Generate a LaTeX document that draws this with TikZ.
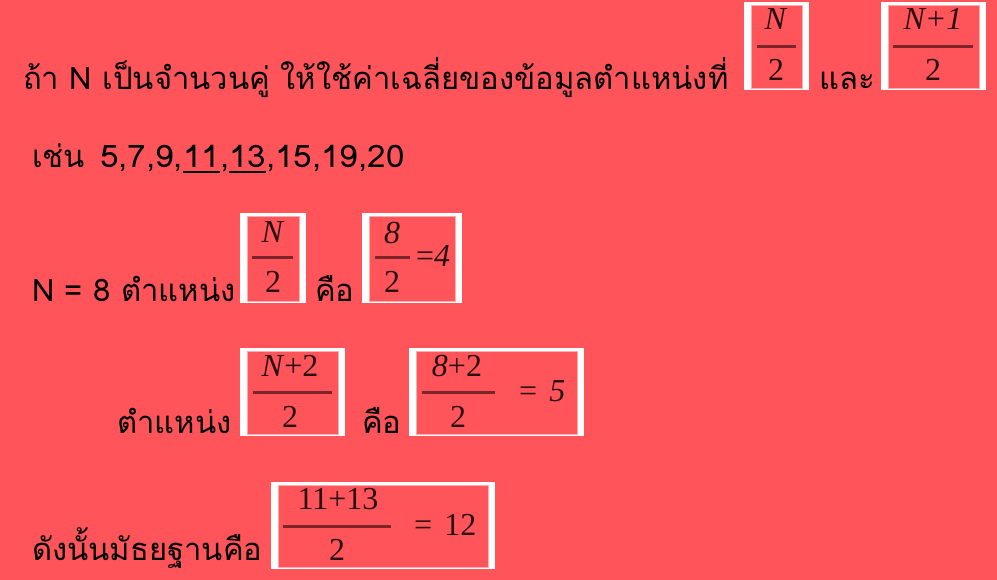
\documentclass[tikz,border=0pt]{standalone}
\usepackage{fontspec}
\newfontfamily\thaifont[Script=Thai]{Loma}
\newfontfamily\timesfont{Liberation Serif}
\usepackage{tikz}
\usetikzlibrary{positioning,calc}
\definecolor{bgred}{RGB}{255,85,90}
\definecolor{barred}{RGB}{125,36,40}
\definecolor{edgepink}{RGB}{255,170,175}
\definecolor{fracink}{RGB}{40,15,18}
\newcommand{\digitline}[1]{\setbox0\hbox{#1}\rlap{\rule[-5pt]{\wd0}{1.8pt}}\box0}

\begin{document}
\begin{tikzpicture}[x=1pt,y=-1pt,
	thai text/.style={anchor=base west,inner sep=0pt,font=\thaifont\fontsize{31}{34}\selectfont},
	inner box/.style={fill=bgred,draw=edgepink,line width=0.8pt},
	frac part/.style={anchor=base,inner sep=0pt,text=fracink,font=\timesfont\fontsize{32}{34}\selectfont},
	frac rest/.style={frac part,anchor=base west},
	frac bar/.style={draw=barred,line width=3pt}]

    \fill[bgred] (0,0) rectangle (997,580);
    \useasboundingbox (0,0) rectangle (997,580);

    % white frames round the fractions
    \foreach \xa/\ya/\xb/\yb in {744/2/809/90, 881/2/986/90, 240/213/306/303, 362/213/462/303,
        240/348/345/436, 409/348/584/436, 271/482/495/569}
    {
        \fill[white] (\xa,\ya) rectangle (\xb,\yb);
        \filldraw[inner box] (\xa+7,\ya+3.5) rectangle (\xb-7,\yb-2);
    }

    % text lines
    \node[thai text] (cond) at (23,90) {ถ้า N เป็นจำนวนคู่ ให้ใช้ค่าเฉลี่ยของข้อมูลตำแหน่งที่};
    \node[thai text] (and) at (819,90) {และ};
    \node[thai text] (ex) at (32,168) {เช่น};
    \node[thai text] (seq) at (100,168) {\scalebox{1.07}[1]{5,7,9,\digitline{11},\digitline{13},15,19,20}};
    \node[thai text] (npos) at (32,302) {N = 8 ตำแหน่ง};
    \node[thai text] (isA) at (315,302) {คือ};
    \node[thai text] (pos) at (117,433) {ตำแหน่ง};
    \node[thai text] (isB) at (362,433) {คือ};
    \node[thai text] (median) at (32,560) {ดังนั้นมัธยฐานคือ};

    % N/2 and (N+1)/2
    \node[frac part] (nA) at (776,30) {\textit{N}};
    \node[frac part] (dA) at (776,81) {2};
    \draw[frac bar] (757,47) -- (796,47);
    \node[frac part] (nB) at (933,30) {\textit{N+1}};
    \node[frac part] (dB) at (933,81) {2};
    \draw[frac bar] (893,47) -- (973,47);

    % N/2 = 8/2 = 4
    \node[frac part] (nC) at (273,243) {\textit{N}};
    \node[frac part] (dC) at (273,293) {2};
    \draw[frac bar] (252,258) -- (293,258);
    \node[frac part] (nD) at (392,244) {\textit{8}};
    \node[frac part] (dD) at (392,293) {2};
    \draw[frac bar] (375,258) -- (410,258);
    \node[frac rest] (rD) at (416,267) {=\textit{4}};

    % (N+2)/2 = (8+2)/2 = 5
    \node[frac part] (nE) at (290,377) {\textit{N}+2};
    \node[frac part] (dE) at (290,427) {2};
    \draw[frac bar] (253,392) -- (332,392);
    \node[frac part] (nF) at (457,377) {\textit{8}+2};
    \node[frac part] (dF) at (458,427) {2};
    \draw[frac bar] (422,392) -- (495,392);
    \node[frac rest] (rF) at (519,402) {=\hspace{12pt}\textit{5}};

    % (11+13)/2 = 12
    \node[frac part] (nG) at (338,509) {11+13};
    \node[frac part] (dG) at (337,560) {2};
    \draw[frac bar] (283,526) -- (391,526);
    \node[frac rest] (rG) at (414,535) {=\hspace{12pt}12};

\end{tikzpicture}
\end{document}
